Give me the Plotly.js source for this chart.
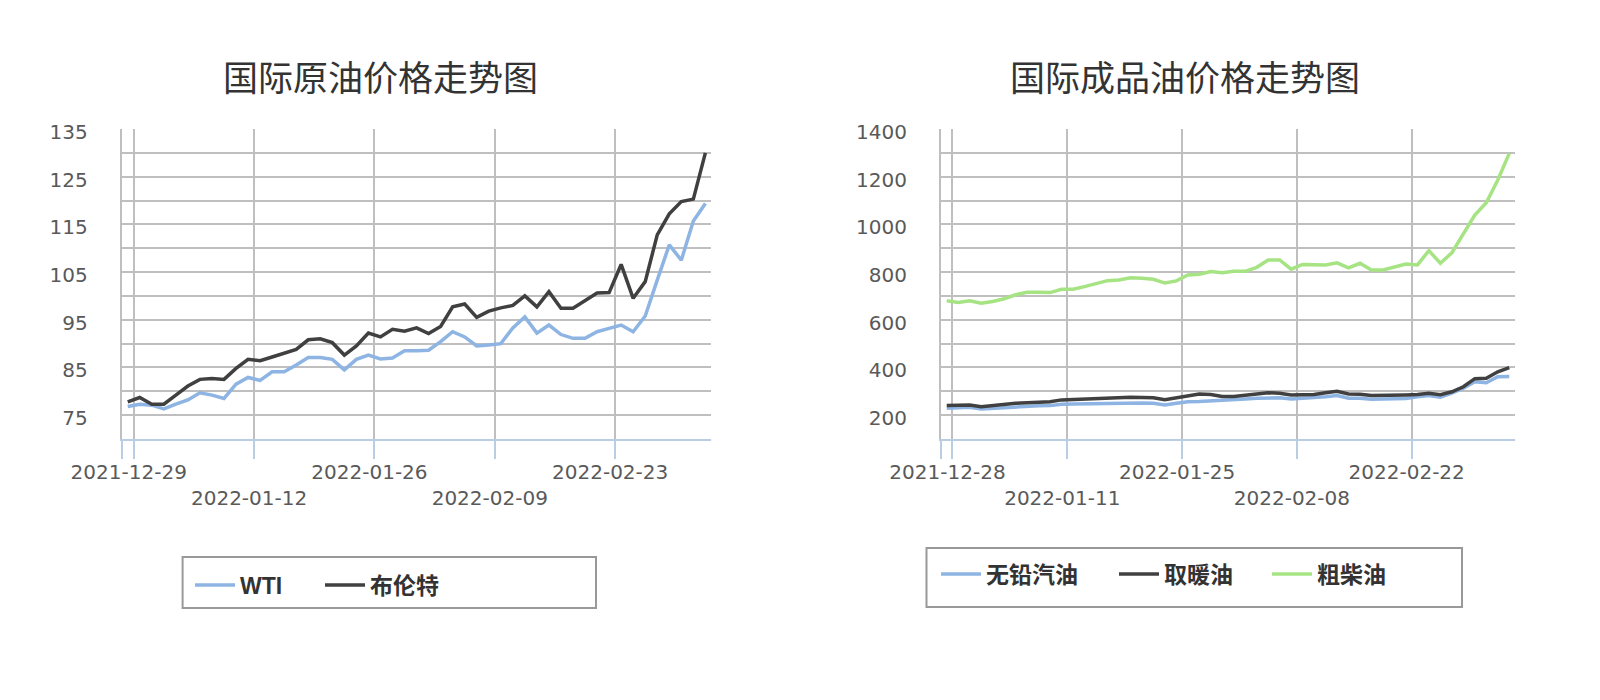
<!DOCTYPE html>
<html>
<head>
<meta charset="utf-8">
<script src="https://cdn.plot.ly/plotly-3.0.1.min.js"></script>
<style>html,body{margin:0;padding:0;background:#fff;}#chart{width:1600px;height:700px;}</style>
</head>
<body>
<div id="chart"></div>
<script>
// ---------- data ----------
const crudeTitle = '国际原油价格走势图';
const productTitle = '国际成品油价格走势图';

const crudeDates = ['2021-12-28','2021-12-29','2021-12-30','2021-12-31','2022-01-03','2022-01-04','2022-01-05','2022-01-06','2022-01-07','2022-01-10',
  '2022-01-11','2022-01-12','2022-01-13','2022-01-14','2022-01-17','2022-01-18','2022-01-19','2022-01-20','2022-01-21','2022-01-24',
  '2022-01-25','2022-01-26','2022-01-27','2022-01-28','2022-01-31','2022-02-01','2022-02-02','2022-02-03','2022-02-04','2022-02-07',
  '2022-02-08','2022-02-09','2022-02-10','2022-02-11','2022-02-14','2022-02-15','2022-02-16','2022-02-17','2022-02-18','2022-02-21',
  '2022-02-22','2022-02-23','2022-02-24','2022-02-25','2022-02-28','2022-03-01','2022-03-02','2022-03-03','2022-03-04'];
const wti = [76.8,77.3,77.1,76.3,77.3,78.2,79.7,79.2,78.5,81.5,
  82.9,82.3,84.1,84.1,85.5,87.1,87.1,86.7,84.5,86.7,
  87.6,86.8,87.0,88.5,88.5,88.6,90.4,92.5,91.4,89.5,
  89.7,90.0,93.3,95.6,92.2,93.9,91.9,91.1,91.1,92.5,
  93.2,93.9,92.5,95.8,103.3,110.7,107.5,115.7,119.4];
const brent = [77.8,78.7,77.3,77.3,79.2,81.1,82.5,82.7,82.5,84.8,
  86.7,86.4,87.2,88.0,88.8,90.8,91.0,90.2,87.6,89.5,
  92.2,91.4,93.0,92.6,93.3,92.1,93.6,97.7,98.3,95.5,
  96.8,97.5,98.0,100.0,97.7,100.9,97.4,97.4,99.0,100.6,
  100.7,106.6,99.5,103.0,112.8,117.2,119.8,120.3,130.0];
const crudeTickDates = ['2021-12-29','2022-01-12','2022-01-26','2022-02-09','2022-02-23'];

const productDates = ['2021-12-27'].concat(crudeDates);
const gasoline = [229,230,233,226,229,233,235,238,239,240,
  246,247,248,249,250,250,251,251,250,243,
  250,256,257,259,261,264,268,271,273,273,
  268,271,272,277,282,271,271,267,268,269,
  270,277,282,275,292,313,340,336,361,362];
const heatingOil = [240,241,243,235,240,247,250,252,254,256,
  264,266,268,270,272,273,275,274,273,265,
  273,284,289,287,278,278,282,289,294,292,
  285,286,287,294,300,289,288,282,282,282,
  285,287,292,286,298,319,353,355,382,399];
const diesel = [680,673,680,669,677,688,705,715,715,714,
  728,728,739,751,764,767,776,774,770,754,
  763,788,791,802,797,803,803,820,851,851,
  812,832,832,830,839,818,837,809,809,820,
  834,830,890,837,881,960,1039,1091,1186,1298];
const productTickDates = ['2021-12-28','2022-01-11','2022-01-25','2022-02-08','2022-02-22'];

const crudeNames = ['WTI','布伦特'];
const productNames = ['无铅汽油','取暖油','粗柴油'];

// ---------- styling ----------
const C_BLUE = '#8db4e3', C_DARK = '#404040', C_GREEN = '#a6e483';
const GRID = '#bfbfbf', XLINE = '#b9cde5', TXT = '#595959';
const W = 1600, H = 700;
const px = v => v / W, py = v => 1 - v / H;

function tickPos(dates, labels) {
  return [-0.5].concat(labels.map(d => dates.indexOf(d) - 0.5));
}
function tickText(labels) {
  return [''].concat(labels.map((d, i) => (i % 2 === 1 ? '<br>' + d : d)));
}
function xAxis(dates, labels, dom, anchor) {
  return {
    domain: dom, anchor: anchor, range: [-0.5, dates.length - 0.5],
    tickmode: 'array', tickvals: tickPos(dates, labels), ticktext: tickText(labels),
    tickangle: 0,
    showgrid: true, gridcolor: GRID, gridwidth: 2,
    showline: true, linecolor: XLINE, linewidth: 2,
    ticks: 'outside', ticklen: 18, tickwidth: 2, tickcolor: XLINE,
    ticklabelshift: -5, ticklabelstandoff: -4,
    tickfont: {family: 'DejaVu Sans', size: 20, color: TXT},
    zeroline: false, fixedrange: true
  };
}
function yAxis(range, tick0, dtick, minorD, dom, anchor) {
  return {
    domain: dom, anchor: anchor, range: range, tick0: tick0, dtick: dtick,
    showgrid: true, gridcolor: GRID, gridwidth: 2,
    minor: {tick0: range[0], dtick: minorD, showgrid: true, gridcolor: GRID, gridwidth: 2},
    showline: true, linecolor: GRID, linewidth: 2, ticks: '',
    ticklabelstandoff: 28, ticklabelshift: 3,
    tickfont: {family: 'DejaVu Sans', size: 20, color: TXT},
    zeroline: false, fixedrange: true
  };
}
const idx = arr => arr.map((_, i) => i);
const LW = 3.5;

const traces = [
  {x: idx(crudeDates), y: wti, name: crudeNames[0], xaxis: 'x', yaxis: 'y', legend: 'legend', mode: 'lines', line: {color: C_BLUE, width: LW}},
  {x: idx(crudeDates), y: brent, name: crudeNames[1], xaxis: 'x', yaxis: 'y', legend: 'legend2', mode: 'lines', line: {color: C_DARK, width: LW}},
  {x: idx(productDates), y: gasoline, name: productNames[0], xaxis: 'x2', yaxis: 'y2', legend: 'legend3', mode: 'lines', line: {color: C_BLUE, width: LW}},
  {x: idx(productDates), y: heatingOil, name: productNames[1], xaxis: 'x2', yaxis: 'y2', legend: 'legend4', mode: 'lines', line: {color: C_DARK, width: LW}},
  {x: idx(productDates), y: diesel, name: productNames[2], xaxis: 'x2', yaxis: 'y2', legend: 'legend5', mode: 'lines', line: {color: C_GREEN, width: LW}}
];

const legFont = {family: 'Liberation Sans, Noto Sans CJK SC', size: 23, color: '#333', weight: 'bold'};
function leg(xPix, yPix) {
  return {x: px(xPix), y: py(yPix), xanchor: 'left', yanchor: 'middle', orientation: 'h',
    bgcolor: 'rgba(0,0,0,0)', borderwidth: 0, font: legFont, itemwidth: 40};
}

const layout = {
  width: W, height: H, margin: {l: 0, r: 0, t: 0, b: 0},
  paper_bgcolor: '#fff', plot_bgcolor: '#fff', hovermode: false,
  showlegend: true,
  xaxis: xAxis(crudeDates, crudeTickDates, [px(121.7), px(711.4)], 'y'),
  yaxis: yAxis([70, 135], 75, 10, 5, [py(439), py(129)], 'x'),
  xaxis2: xAxis(productDates, productTickDates, [px(941), px(1515)], 'y2'),
  yaxis2: yAxis([100, 1400], 200, 200, 100, [py(439), py(129)], 'x2'),
  legend: leg(190, 585),
  legend2: leg(320, 585),
  legend3: leg(936, 574),
  legend4: leg(1114, 574),
  legend5: leg(1267, 574),
  shapes: [
    {type: 'rect', xref: 'paper', yref: 'paper', x0: px(182.6), x1: px(596), y0: py(608), y1: py(557), line: {color: '#999', width: 2}},
    {type: 'rect', xref: 'paper', yref: 'paper', x0: px(926.5), x1: px(1462), y0: py(607), y1: py(548), line: {color: '#999', width: 2}}
  ],
  annotations: [
    {text: crudeTitle, xref: 'paper', yref: 'paper', x: px(380), y: py(76), xanchor: 'center', yanchor: 'middle', showarrow: false,
     font: {family: 'Noto Sans CJK SC', size: 35, color: '#333'}},
    {text: productTitle, xref: 'paper', yref: 'paper', x: px(1185), y: py(76), xanchor: 'center', yanchor: 'middle', showarrow: false,
     font: {family: 'Noto Sans CJK SC', size: 35, color: '#333'}}
  ]
};

Plotly.newPlot('chart', traces, layout, {displayModeBar: false, staticPlot: true});
</script>
</body>
</html>
